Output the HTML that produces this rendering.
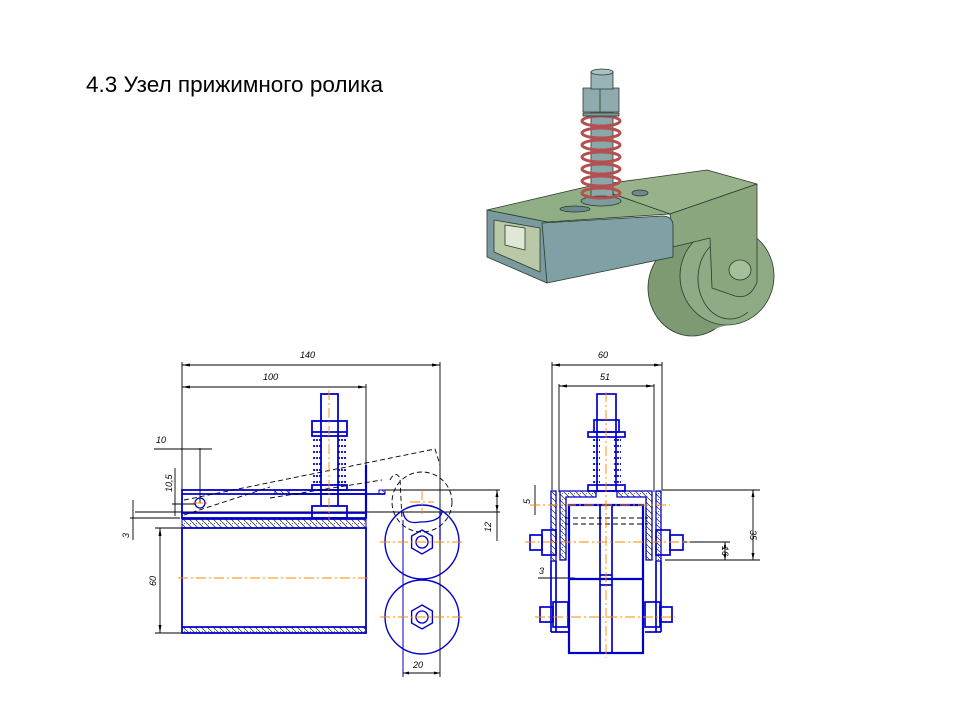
<!DOCTYPE html>
<html><head><meta charset="utf-8"><style>
html,body{margin:0;padding:0;background:#fff;}
svg{display:block;}
text{font-family:"Liberation Sans",sans-serif;}
</style></head><body>
<svg width="960" height="720" viewBox="0 0 960 720" xmlns="http://www.w3.org/2000/svg">
<defs>
<pattern id="h" width="6" height="6" patternUnits="userSpaceOnUse"><rect width="6" height="6" fill="#fff"/><path d="M0 0 L6 6" stroke="#222" stroke-width="0.7"/><circle cx="4.5" cy="1.5" r="0.5" fill="#333"/></pattern>
</defs>
<rect width="960" height="720" fill="#fff"/>
<text x="86" y="92" font-size="22" textLength="297" lengthAdjust="spacingAndGlyphs" fill="#000">4.3  Узел прижимного ролика</text>

<!-- 3D render -->
<g stroke="#2a3a2a" stroke-width="0.8" stroke-linejoin="round">
 <ellipse cx="692" cy="288" rx="44" ry="48" fill="#7d9a72"/>
 <path d="M692 240 L727 227 L727 325 L692 336 Z" fill="#7d9a72" stroke="none"/>
 <ellipse cx="727" cy="276" rx="47" ry="49" fill="#8fab85"/>
 <path d="M712 245 A30 38 0 1 0 748 312" fill="none"/>
 <path d="M590 186 L707 170 L757 184 L670 214 Z" fill="#98b28c"/>
 <path d="M670 214 L757 184 L757 282 Q750 300 735 296 L712 288 L710 238 L673 247 Z" fill="#8aa67e"/>
 <ellipse cx="740" cy="270" rx="11" ry="10" fill="#a5bf9a"/>
 <path d="M487 210 L590 186 L670 214 L547 222 Z" fill="#8fae86"/>
 <path d="M487 210 L547 222 L547 283 L487 257 Z" fill="#7a9aa0"/>
 <path d="M494 220 L540 228 L540 272 L494 252 Z" fill="#b9c9a8"/>
 <path d="M505 225 L525 228 L525 250 L505 245 Z" fill="#dfe7d6"/>
 <path d="M542 223 L662 216 Q673 216 673 226 L673 257 L547 283 Z" fill="#7fa0a4"/>
 <ellipse cx="575" cy="209" rx="15" ry="3" fill="#6c8a8c"/>
 <ellipse cx="640" cy="193" rx="8" ry="3" fill="#6c8a8c"/>
 <rect x="591" y="110" width="22" height="90" fill="#8aa7a9"/>
 <ellipse cx="601" cy="201" rx="20" ry="5" fill="#7d9a9c"/>
 <g fill="none" stroke="#b45050" stroke-width="3">
  <ellipse cx="601" cy="121" rx="19" ry="5"/><ellipse cx="601" cy="133" rx="19" ry="5"/>
  <ellipse cx="601" cy="145" rx="19" ry="5"/><ellipse cx="601" cy="157" rx="19" ry="5"/>
  <ellipse cx="601" cy="169" rx="19" ry="5"/><ellipse cx="601" cy="181" rx="19" ry="5"/>
  <ellipse cx="601" cy="193" rx="19" ry="5"/>
 </g>
 <path d="M583 113 L619 113 L619 116 L583 116 Z" fill="#7d9a9c"/>
 <rect x="583" y="88" width="36" height="24" fill="#8fabad"/>
 <line x1="600" y1="88" x2="600" y2="112"/>
 <rect x="591" y="72" width="22" height="17" fill="#98b4b6"/>
 <ellipse cx="602" cy="72" rx="11" ry="3" fill="#a8c2c4"/>
</g>

<!-- LEFT DRAWING -->
<g fill="none" stroke="#000" stroke-width="0.9">
 <line x1="182" y1="365" x2="440" y2="365"/>
 <line x1="182" y1="387" x2="366" y2="387"/>
 <line x1="440" y1="362" x2="440" y2="677"/>
 <line x1="366" y1="384" x2="366" y2="470"/>
 <line x1="182" y1="362" x2="182" y2="530"/>
 <line x1="154" y1="449" x2="212" y2="449"/>
 <line x1="200" y1="448" x2="200" y2="503"/>
 <line x1="175" y1="468" x2="175" y2="516"/>
 <line x1="172" y1="504" x2="196" y2="504"/>
 <line x1="135" y1="512" x2="500" y2="512"/>
 <line x1="130" y1="518" x2="180" y2="518"/>
 <line x1="133" y1="500" x2="133" y2="540"/>
 <line x1="380" y1="490" x2="500" y2="490"/>
 <line x1="497" y1="490" x2="497" y2="541"/>
 <line x1="160" y1="528" x2="160" y2="633"/>
 <line x1="155" y1="528" x2="182" y2="528"/>
 <line x1="155" y1="633" x2="182" y2="633"/>
 <line x1="403" y1="673" x2="440" y2="673"/>
 <line x1="403" y1="520" x2="403" y2="677"/>
</g>
<g fill="#000">
 <path d="M182 365 l8 -1.5 v3z M440 365 l-8 -1.5 v3z M182 387 l8 -1.5 v3z M366 387 l-8 -1.5 v3z M160 528 l-1.5 8 h3z M160 633 l-1.5 -8 h3z M497 490 l-1.5 7 h3z M497 512 l-1.5 -7 h3z M403 673 l6 -1.5 v3z M440 673 l-6 -1.5 v3z"/>
</g>
<g font-size="9" font-style="italic" fill="#000">
 <text x="300" y="358">140</text>
 <text x="263" y="380">100</text>
 <text x="156" y="443">10</text>
 <text x="413" y="668">20</text>
 <text transform="translate(172,492) rotate(-90)">10,5</text>
 <text transform="translate(129,538) rotate(-90)">3</text>
 <text transform="translate(156,586) rotate(-90)">60</text>
 <text transform="translate(491,532) rotate(-90)">12</text>
</g>
<g fill="url(#h)" stroke="#0000cc" stroke-width="1">
 <rect x="182" y="519" width="184" height="9"/>
 <rect x="182" y="627" width="184" height="6"/>
 <rect x="275" y="490" width="14" height="4"/>
 <rect x="379" y="490" width="6" height="4"/>
</g>
<g fill="none" stroke="#0000cc" stroke-width="1.8">
 <rect x="182" y="490" width="184" height="28"/>
 <line x1="182" y1="494" x2="366" y2="494"/>
 <line x1="182" y1="513" x2="366" y2="513"/>
 <rect x="182" y="528" width="184" height="105"/>
 <line x1="182" y1="519" x2="366" y2="519"/>
 <line x1="182" y1="627" x2="366" y2="627"/>
 <rect x="321" y="394" width="17" height="96"/>
 <rect x="312" y="421" width="35" height="15"/>
 <line x1="312" y1="432" x2="347" y2="432"/>
 <rect x="312" y="485" width="35" height="5"/>
 <rect x="312" y="506" width="35" height="12"/>
 <line x1="321" y1="490" x2="321" y2="506"/><line x1="338" y1="490" x2="338" y2="506"/>
 <line x1="366" y1="465" x2="366" y2="518" stroke-width="2.2"/>
 <line x1="289" y1="494" x2="385" y2="494"/>
 <circle cx="200" cy="503" r="5" stroke-width="1.3"/>
 <circle cx="422" cy="542" r="37" stroke-width="1.4"/>
 <circle cx="422" cy="617" r="37" stroke-width="1.4"/>
 <path d="M422 530 l10.4 6 v12 l-10.4 6 l-10.4 -6 v-12z" stroke-width="1.4"/>
 <circle cx="422" cy="542" r="6" stroke-width="1.3"/>
 <path d="M422 605 l10.4 6 v12 l-10.4 6 l-10.4 -6 v-12z" stroke-width="1.4"/>
 <circle cx="422" cy="617" r="6" stroke-width="1.3"/>
 <path d="M403 512 Q405 525 420 522 Q440 522 442 512" stroke-width="1.3"/>
 <line x1="403" y1="520" x2="403" y2="677" stroke-width="0.9"/>
 <line x1="440" y1="512" x2="440" y2="540" stroke-width="1.3"/>
</g>
<g stroke="#0000cc" stroke-width="1.8" stroke-dasharray="2 1">
 <path d="M313 440 h8 M313 446 h8 M313 452 h8 M313 458 h8 M313 464 h8 M313 470 h8 M313 476 h8 M313 482 h8 M338 440 h8 M338 446 h8 M338 452 h8 M338 458 h8 M338 464 h8 M338 470 h8 M338 476 h8 M338 482 h8"/>
</g>
<g fill="none" stroke="#000" stroke-width="0.9" stroke-dasharray="5 3">
 <path d="M184 515 L270 487 M184 500 L435 449 L440 465"/>
 <path d="M270 498 L382 480"/>
 <circle cx="422" cy="502" r="30"/>
 <path d="M390 480 Q395 470 400 478 L402 520"/>
</g>
<g stroke="#ff8800" stroke-width="0.9" stroke-dasharray="10 3 2 3" fill="none">
 <line x1="178" y1="578" x2="370" y2="578"/>
 <line x1="329" y1="390" x2="329" y2="520"/>
 <line x1="380" y1="542" x2="465" y2="542"/>
 <line x1="380" y1="617" x2="465" y2="617"/>
 <line x1="410" y1="502" x2="434" y2="502"/>
 <line x1="422" y1="490" x2="422" y2="514"/>
 <line x1="193" y1="503" x2="207" y2="503"/>
</g>

<!-- RIGHT DRAWING -->
<g fill="none" stroke="#000" stroke-width="0.9">
 <line x1="552" y1="365" x2="662" y2="365"/>
 <line x1="559" y1="386" x2="654" y2="386"/>
 <line x1="552" y1="362" x2="552" y2="490"/>
 <line x1="662" y1="362" x2="662" y2="490"/>
 <line x1="559" y1="384" x2="559" y2="492"/>
 <line x1="654" y1="384" x2="654" y2="492"/>
 <line x1="662" y1="490" x2="760" y2="490"/>
 <line x1="665" y1="560" x2="760" y2="560"/>
 <line x1="683" y1="542" x2="730" y2="542"/>
 <line x1="753" y1="490" x2="753" y2="560"/>
 <line x1="725" y1="542" x2="725" y2="560"/>
 <line x1="535" y1="485" x2="535" y2="515"/>
 <line x1="538" y1="578" x2="575" y2="578"/>
</g>
<g fill="#000">
 <path d="M552 365 l8 -1.5 v3z M662 365 l-8 -1.5 v3z M559 386 l8 -1.5 v3z M654 386 l-8 -1.5 v3z M753 490 l-1.5 7 h3z M753 560 l-1.5 -7 h3z M725 542 l-1.5 6 h3z M725 560 l-1.5 -6 h3z"/>
</g>
<g font-size="9" font-style="italic" fill="#000">
 <text x="598" y="358">60</text>
 <text x="600" y="380">51</text>
 <text x="539" y="574">3</text>
 <text transform="translate(530,504) rotate(-90)">5</text>
 <text transform="translate(750,530) rotate(90)">35</text>
 <text transform="translate(722,546) rotate(90)">16</text>
</g>
<g fill="url(#h)" stroke="#0000cc" stroke-width="1.3">
 <rect x="551" y="491" width="5" height="70"/>
 <rect x="656" y="491" width="5" height="70"/>
 <path d="M560 491 H596 V497 H566 V560 H560 Z"/>
 <path d="M617 491 H652 V560 H646 V497 H617 Z"/>
</g>
<g fill="none" stroke="#0000cc" stroke-width="1.7">
 <rect x="597" y="394" width="19" height="97"/>
 <rect x="594" y="420" width="25" height="12"/>
 <rect x="588" y="432" width="37" height="5"/>
 <rect x="588" y="485" width="37" height="6"/>
 <rect x="569" y="505" width="74" height="148" stroke-width="2.2"/>
 <line x1="569" y1="579" x2="643" y2="579" stroke-width="2.2"/>
 <rect x="600" y="505" width="12" height="148"/>
 <line x1="600" y1="575" x2="612" y2="575"/><line x1="600" y1="585" x2="612" y2="585"/>
 <rect x="530" y="535" width="12" height="15"/>
 <rect x="542" y="530" width="14" height="25"/>
 <rect x="656" y="530" width="14" height="25"/>
 <rect x="670" y="535" width="13" height="15"/>
 <rect x="540" y="607" width="13" height="15"/>
 <rect x="553" y="602" width="15" height="25"/>
 <rect x="645" y="602" width="15" height="25"/>
 <rect x="660" y="607" width="12" height="15"/>
 <line x1="551" y1="561" x2="551" y2="632"/><line x1="556" y1="561" x2="556" y2="632"/>
 <line x1="656" y1="561" x2="656" y2="632"/><line x1="661" y1="561" x2="661" y2="632"/>
 <line x1="551" y1="632" x2="568" y2="632"/><line x1="645" y1="632" x2="661" y2="632"/>
</g>
<g stroke="#0000cc" stroke-width="1.8" stroke-dasharray="2 1">
 <path d="M593 440 h7 M593 446 h7 M593 452 h7 M593 458 h7 M593 464 h7 M593 470 h7 M593 476 h7 M593 482 h7 M614 440 h7 M614 446 h7 M614 452 h7 M614 458 h7 M614 464 h7 M614 470 h7 M614 476 h7 M614 482 h7"/>
</g>
<g fill="none" stroke="#000" stroke-width="0.9" stroke-dasharray="5 3">
 <line x1="565" y1="518" x2="648" y2="518"/>
 <line x1="565" y1="524" x2="648" y2="524"/>
</g>
<g stroke="#ff8800" stroke-width="0.9" stroke-dasharray="10 3 2 3" fill="none">
 <line x1="606" y1="392" x2="606" y2="658"/>
 <line x1="530" y1="505" x2="670" y2="505"/>
 <line x1="525" y1="542" x2="690" y2="542"/>
 <line x1="535" y1="617" x2="675" y2="617"/>
</g>
</svg>
</body></html>
